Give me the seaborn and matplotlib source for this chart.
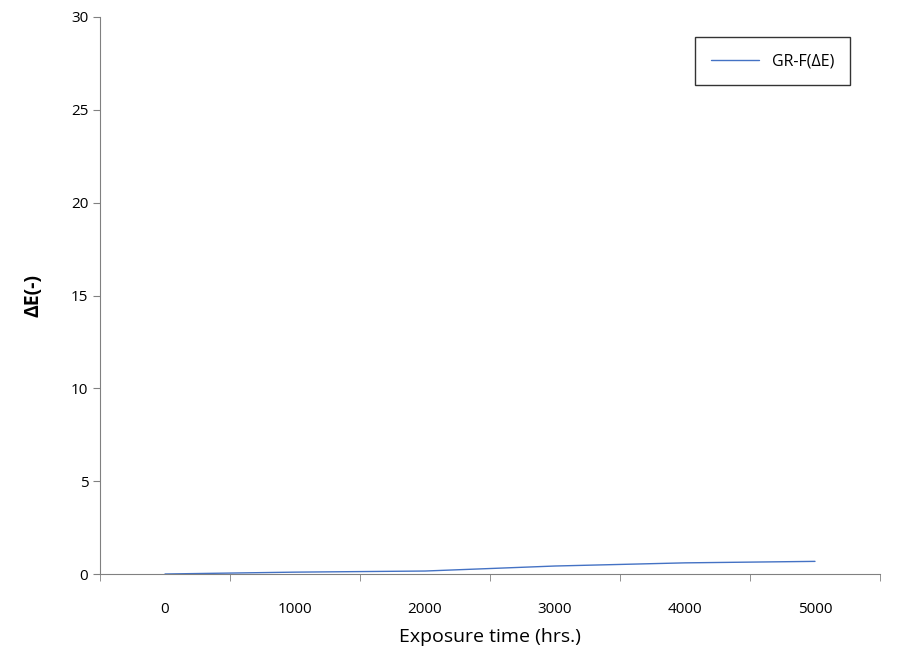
import matplotlib
matplotlib.use("Agg")
import matplotlib.pyplot as plt
import seaborn as sns
import numpy as np
import pandas as pd

hours = [0, 1000, 2000, 3000, 4000, 5000]
delta_e = [0.0, 0.1, 0.16, 0.43, 0.6, 0.68]
tick_labels = ["0", "1000", "2000", "3000", "4000", "5000"]

sns.set_style("white")
plt.rcParams['font.family'] = ['Open Sans', 'DejaVu Sans']
plt.rcParams['text.color'] = 'black'
plt.rcParams['axes.labelcolor'] = 'black'
plt.rcParams['xtick.color'] = 'black'
plt.rcParams['ytick.color'] = 'black'

fig = plt.figure(figsize=(9, 6.65), dpi=100)
ax = fig.add_axes([100/900, 1-574/665, 780/900, (574-17)/665])

df = pd.DataFrame({"pos": np.arange(len(hours)), "dE": delta_e})
sns.lineplot(data=df, x="pos", y="dE", ax=ax, color="#4472C4", linewidth=1, label="GR-F(ΔE)")

ax.set_xlim(-0.5, len(hours)-0.5)
ax.set_ylim(0, 30)
ax.set_yticks(range(0, 31, 5))
ax.set_xticks(range(len(hours)))
ax.set_xticklabels(tick_labels, fontsize=11)
ax.set_xticks(np.arange(-0.5, len(hours), 1), minor=True)
ax.tick_params(axis='x', which='major', length=0, pad=20)
ax.tick_params(axis='x', which='minor', length=5, color='#808080', direction='out')
ax.tick_params(axis='y', length=5, color='#808080', labelsize=11, direction='out')
ax.xaxis.set_tick_params(which='minor', bottom=True)
ax.yaxis.set_tick_params(left=True)
for s in ["top", "right"]:
    ax.spines[s].set_visible(False)
for s in ["left", "bottom"]:
    ax.spines[s].set_color('#808080')
ax.set_xlabel("Exposure time (hrs.)", fontsize=14, labelpad=8)
ax.set_ylabel("ΔE(-)", fontsize=14, fontweight='bold', labelpad=20)
leg = ax.legend(loc="upper right", bbox_to_anchor=(0.972, 0.978), fontsize=11.5,
                frameon=True, fancybox=False, edgecolor='black', handlelength=3,
                borderpad=1.0)
leg.get_frame().set_linewidth(1)
fig.savefig("out.png", dpi=100)
